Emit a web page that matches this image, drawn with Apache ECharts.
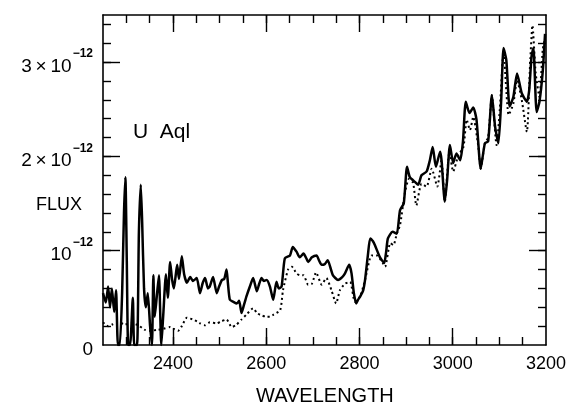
<!DOCTYPE html>
<html>
<head>
<meta charset="utf-8">
<script src="https://cdn.jsdelivr.net/npm/echarts@6/dist/echarts.min.js"></script>
<style>
html,body{margin:0;padding:0;background:#fff;}
#chart{width:569px;height:408px;}
</style>
</head>
<body>
<div id="chart"></div>
<script>
// Wavelength (Å) and flux (units of 1e-12)
const solidWave = [2250,2256,2261,2265,2269,2274,2278,2282,2286,2291,2295,2298,2301,2304,2308,2314,2317,2323,2327,2331,2334,2338,2342,2346,2351,2355,2358,2361,2366,2370,2375,2379,2385,2389,2394,2398,2402,2409,2413,2419,2424,2430,2437,2443,2451,2458,2464,2469,2475,2479,2486,2494,2499,2505,2510,2515,2518,2522,2529,2537,2542,2547,2552,2558,2565,2572,2580,2585,2590,2595,2601,2608,2615,2622,2627,2633,2640,2651,2657,2665,2672,2680,2686,2690,2698,2708,2713,2719,2726,2732,2739,2743,2754,2763,2769,2778,2783,2788,2793,2797,2801,2808,2812,2818,2823,2829,2833,2844,2853,2857,2861,2871,2880,2887,2895,2902,2908,2919,2926,2933,2944,2951,2957,2964,2973,2976,2983,2988,2994,3001,3008,3016,3022,3028,3036,3044,3051,3060,3069,3076,3084,3091,3098,3104,3109,3115,3122,3130,3138,3148,3159,3164,3169,3173,3180,3186,3193,3198];
const solidFlux = [0.55,0.45,0.62,0.40,0.60,0.35,0.58,0.0,0.0,0.55,1.40,1.78,0.90,0.0,0.0,0.50,0.0,0.0,1.20,1.70,1.30,0.60,0.40,0.55,0.20,0.0,0.74,0.30,0.55,0.74,0.0,0.30,0.75,0.50,0.88,0.70,0.60,0.85,0.70,0.94,0.75,0.66,0.72,0.68,0.71,0.55,0.66,0.71,0.60,0.62,0.72,0.55,0.62,0.69,0.70,0.80,0.65,0.48,0.46,0.44,0.47,0.34,0.42,0.52,0.62,0.71,0.57,0.65,0.71,0.68,0.69,0.62,0.48,0.67,0.60,0.62,0.92,0.95,1.04,0.99,0.93,0.97,0.92,0.88,0.93,0.95,0.90,0.85,0.86,0.90,0.80,0.74,0.69,0.72,0.76,0.85,0.76,0.55,0.44,0.48,0.51,0.58,0.69,0.95,1.13,1.10,1.06,0.93,0.87,0.98,1.13,1.20,1.18,1.43,1.50,1.89,1.78,1.73,1.70,1.80,1.84,1.96,2.10,1.89,2.05,1.96,1.52,1.75,2.12,1.93,2.03,1.96,2.16,2.58,2.46,2.52,2.39,1.87,2.14,2.16,2.65,2.31,2.14,2.60,3.15,3.02,2.53,2.63,2.88,2.67,2.58,2.70,3.06,3.15,2.47,2.58,2.90,3.30];

const dottedWave = [2250,2261,2271,2282,2297,2312,2325,2334,2340,2351,2365,2379,2394,2402,2411,2419,2430,2437,2443,2452,2458,2469,2479,2494,2503,2515,2526,2535,2547,2559,2572,2580,2587,2601,2608,2615,2630,2636,2647,2655,2665,2672,2680,2690,2698,2707,2719,2729,2740,2750,2758,2769,2780,2790,2801,2812,2826,2837,2850,2855,2866,2873,2880,2887,2897,2906,2915,2922,2933,2944,2955,2967,2976,2983,2993,3001,3012,3023,3030,3037,3044,3055,3060,3069,3076,3084,3094,3101,3109,3120,3130,3138,3148,3159,3166,3171,3178,3186,3193,3198];
const dottedFlux = [0.24,0.20,0.22,0.24,0.22,0.23,0.21,0.18,0.16,0.15,0.16,0.17,0.19,0.17,0.15,0.20,0.29,0.28,0.27,0.25,0.23,0.21,0.24,0.23,0.25,0.27,0.19,0.21,0.27,0.33,0.39,0.34,0.32,0.30,0.30,0.32,0.37,0.58,0.80,0.83,0.76,0.74,0.74,0.64,0.65,0.77,0.64,0.71,0.58,0.44,0.58,0.65,0.67,0.46,0.51,0.69,0.95,0.95,0.87,0.83,1.08,1.06,1.18,1.27,1.60,1.76,1.72,1.48,1.71,1.68,1.87,1.68,1.96,1.52,2.05,1.84,2.01,2.10,2.39,2.28,2.42,2.10,1.87,2.14,2.20,2.65,2.12,2.50,3.11,2.44,2.56,2.81,2.60,2.26,2.99,3.39,2.88,2.63,3.13,3.25];

const xTickLabels = [2400,2600,2800,3000,3200];
const xMajorTicks = [2400,2600,2800,3000];
const yTickLabels = [0,1,2,3];
const yMajorTicks = [1,2,3];

const xMinorTicks = [];
for (let w = 2300; w < 3200; w += 50) xMinorTicks.push(w);
const yMinorTicks = [];
for (let i = 1; i <= 17; i++) yMinorTicks.push(+(i * 0.2).toFixed(1));

const FONT = 'Liberation Sans, Arial, Helvetica, sans-serif';
const chart = echarts.init(document.getElementById('chart'), null, {renderer: 'canvas'});

function xAx(pos, ticks, len, labels, line) {
  return {
    type: 'value', position: pos, min: 2250, max: 3200,
    axisLine: {show: line, onZero: false, lineStyle: {color: '#000', width: 1.6}},
    axisTick: {show: true, inside: true, length: len, customValues: ticks, lineStyle: {color: '#000', width: 1.4}},
    axisLabel: labels ? {show: true, customValues: labels, margin: 10, color: '#000', fontSize: 18, fontFamily: FONT,
      formatter: function (v) { return String(v); }} : {show: false},
    splitLine: {show: false}
  };
}
function yAx(pos, ticks, len, labels, line) {
  return {
    type: 'value', position: pos, min: 0, max: 3.5,
    axisLine: {show: line, onZero: false, lineStyle: {color: '#000', width: 1.6}},
    axisTick: {show: true, inside: true, length: len, customValues: ticks, lineStyle: {color: '#000', width: 1.4}},
    axisLabel: labels ? {
      show: true, customValues: labels, margin: 10, color: '#000',
      formatter: function (v) {
        if (v === 0) return '{b|0}';
        if (v === 1) return '{b|10}{s|−12}';
        return '{b|' + v + '\u2009×\u200910}{s|−12}';
      },
      rich: {
        b: {fontSize: 19, fontFamily: FONT, color: '#000', lineHeight: 28, verticalAlign: 'bottom'},
        s: {fontSize: 12, fontFamily: FONT, fontWeight: 'bold', color: '#000', lineHeight: 28, verticalAlign: 'top', padding: [0, 0, 0, 1]}
      }
    } : {show: false},
    splitLine: {show: false}
  };
}

chart.setOption({
  animation: false,
  backgroundColor: '#fff',
  grid: {left: 103, right: 23, top: 15, bottom: 63},
  xAxis: [
    xAx('bottom', xMinorTicks, 8, xTickLabels, true),
    xAx('bottom', xMajorTicks, 17, null, false),
    xAx('top', xMinorTicks, 8, null, true),
    xAx('top', xMajorTicks, 17, null, false)
  ],
  yAxis: [
    yAx('left', yMinorTicks, 8, yTickLabels, true),
    yAx('left', yMajorTicks, 17, null, false),
    yAx('right', yMinorTicks, 8, null, true),
    yAx('right', yMajorTicks, 17, null, false)
  ],
  graphic: [
    {type: 'text', left: 36, top: 196, style: {text: 'FLUX', font: '18px ' + FONT, fill: '#000'}},
    {type: 'text', left: 256, top: 386, style: {text: 'WAVELENGTH', font: '20px ' + FONT, fill: '#000'}},
    {type: 'text', left: 133, top: 122, style: {text: 'U  Aql', font: '21px ' + FONT, fill: '#000'}}
  ],
  series: [
    {
      type: 'line', xAxisIndex: 0, yAxisIndex: 0, symbol: 'none', smooth: 0.2,
      data: solidWave.map((w, i) => [w, solidFlux[i]]),
      lineStyle: {color: '#000', width: 2.5}
    },
    {
      type: 'line', xAxisIndex: 0, yAxisIndex: 0, symbol: 'none', smooth: 0.2,
      data: dottedWave.map((w, i) => [w, dottedFlux[i]]),
      lineStyle: {color: '#000', width: 2, type: [2, 3]}
    }
  ]
});
</script>
</body>
</html>
